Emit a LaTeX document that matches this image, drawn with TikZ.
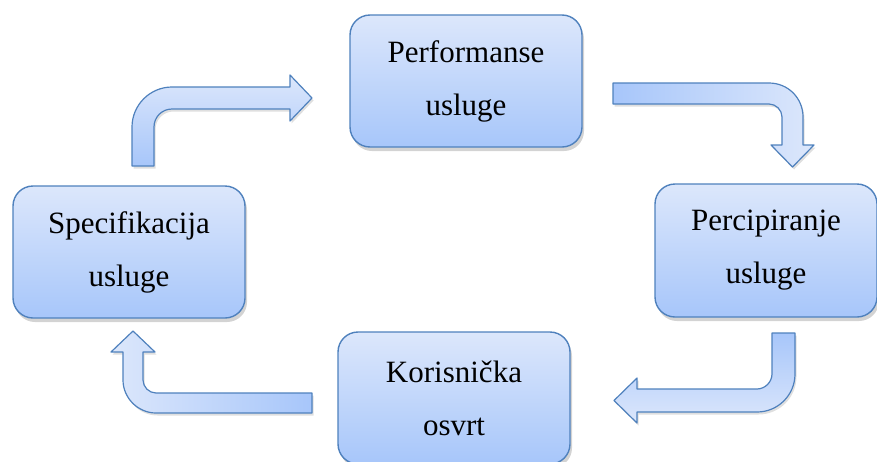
\documentclass[tikz,border=0pt]{standalone}
\usepackage{fontspec}
\setmainfont{Liberation Serif}
\newfontfamily\boxserif{Liberation Serif}
\usetikzlibrary{shadows}
\definecolor{edgeblue}{HTML}{4F81BD}
\definecolor{lightfill}{HTML}{DCE7FB}
\definecolor{darkfill}{HTML}{A7C6FA}
\tikzset{
  stepbox/.style={draw=edgeblue, line width=1.4pt, rounded corners=20pt,
    top color=lightfill, bottom color=darkfill, align=center,
    minimum width=232pt, minimum height=132pt, inner sep=0pt,
    font=\boxserif\fontsize{31}{53}\selectfont,
    drop shadow={opacity=0.35, shadow xshift=2pt, shadow yshift=-4pt}},
  blockarrow/.style={draw=edgeblue, line width=1.2pt, line join=round,
    drop shadow={opacity=0.25, shadow xshift=1.5pt, shadow yshift=-2.5pt}}
}
\begin{document}
\begin{tikzpicture}[x=1pt, y=-1pt]
\useasboundingbox (0,0) rectangle (877,461);
% boxes
\node[stepbox] (perf) at (466,81) {Performanse\\usluge};
\node[stepbox] (spec) at (129,252) {Specifikacija\\usluge};
\node[stepbox, minimum width=222pt, minimum height=133pt] (perc) at (766,250.5) {Percipiranje\\usluge};
\node[stepbox] (kor) at (454,398) {Korisnička\\osvrt};
% arrow: Specifikacija -> Performanse
\path[blockarrow, top color=lightfill, bottom color=darkfill]
  (132,166) -- (132,127) .. controls (132,105) and (150,87) .. (172,87)
  -- (290,87) -- (290,75) -- (312,98) -- (290,121) -- (290,109)
  -- (172,109) .. controls (162,109) and (154,117) .. (154,127)
  -- (154,166) -- cycle;
% arrow: Performanse -> Percipiranje
\path[blockarrow, left color=darkfill, right color=lightfill]
  (613,83) -- (769,83) .. controls (788,83) and (803,98) .. (803,117)
  -- (803,145) -- (814,145) -- (792.5,167) -- (771,145) -- (782,145)
  -- (782,117) .. controls (782,110) and (776,104) .. (769,104)
  -- (613,104) -- cycle;
% arrow: Percipiranje -> Korisnicka
\path[blockarrow, top color=darkfill, bottom color=lightfill]
  (772,333) -- (795,333) -- (795,374) .. controls (795,395) and (778,412) .. (757,412)
  -- (637,412) -- (637,423) -- (614,400.5) -- (637,378) -- (637,389)
  -- (757,389) .. controls (765,389) and (772,382) .. (772,374) -- cycle;
% arrow: Korisnicka -> Specifikacija
\path[blockarrow, right color=darkfill, left color=lightfill]
  (312,393) -- (312,413) -- (156,413) .. controls (138,413) and (123,398) .. (123,380)
  -- (123,352) -- (111,352) -- (133,331) -- (155,352) -- (143,352)
  -- (143,380) .. controls (143,387) and (149,393) .. (156,393) -- cycle;
\end{tikzpicture}
\end{document}
